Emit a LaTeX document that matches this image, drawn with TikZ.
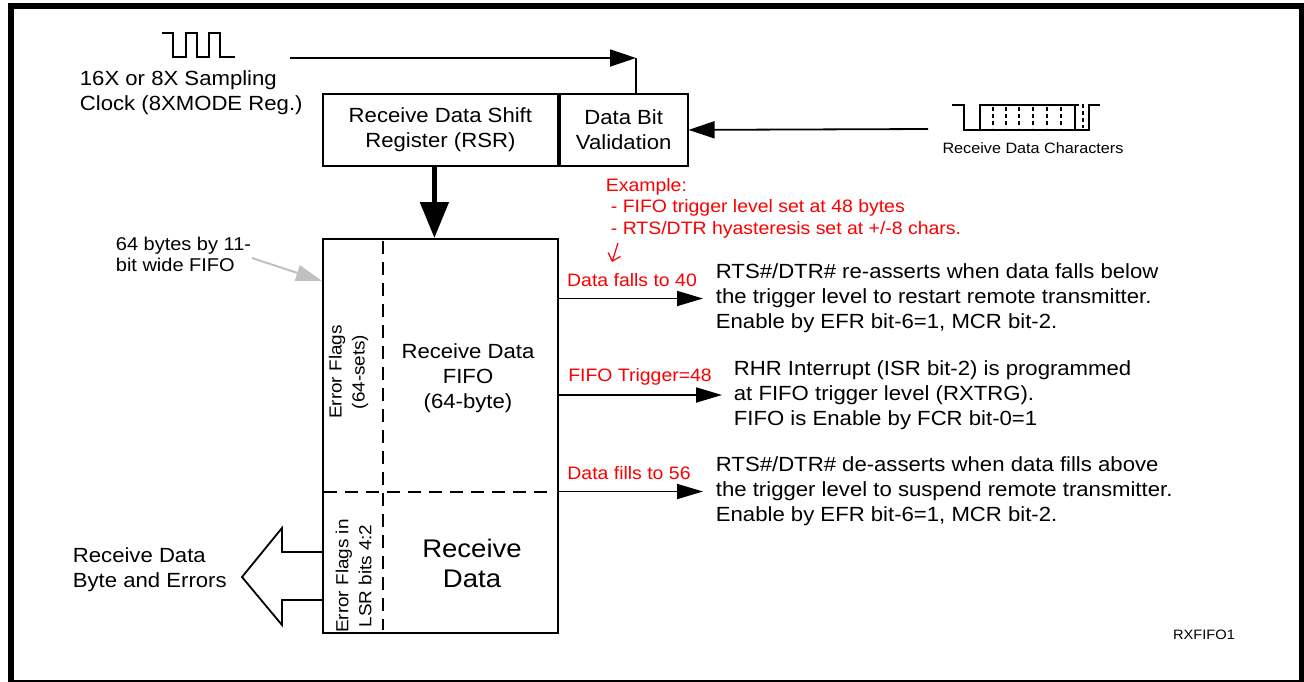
\documentclass[tikz,border=0pt]{standalone}
\usepackage{fontspec}
\setmainfont{Liberation Sans}[FakeStretch=1.08]
\usepackage{xcolor}
\usetikzlibrary{arrows.meta}
\definecolor{exred}{RGB}{250,0,0}
\definecolor{callgray}{RGB}{192,192,192}

\begin{document}
\begin{tikzpicture}[x=1pt, y=-1pt, line width=1.8pt,
  every node/.style={inner sep=0pt},
  body/.style={font=\fontsize{20.5}{25}\selectfont, align=left},
  flagtxt/.style={font=\fontsize{17.5}{23}\selectfont, align=center},
  redtxt/.style={text=exred, font=\fontsize{18}{21.5}\selectfont, align=left},
  smalltxt/.style={font=\fontsize{18.5}{21}\selectfont, align=left},
  regbox/.style={draw, body, align=center, anchor=north west, minimum height=72pt},
  flagsep/.style={dash pattern=on 13pt off 8pt},
  arr/.style={-{Triangle[length=26pt,width=15pt]}},
  wave/.style={line width=1.6pt, line join=miter}]
  \useasboundingbox (0,0) rectangle (1304,681);
  % frame round the figure
  \draw[line width=6pt] (11,6) rectangle (1302,683);

  % sampling clock
  \draw[wave] (162,33) -- (173,33) -- (173,57) -- (186,57) -- (186,33) -- (197,33)
    -- (197,57) -- (209,57) -- (209,33) -- (220,33) -- (220,57) -- (235,57);
  \node[body, anchor=west] (clktxt) at (79,92.5) {16X or 8X Sampling\\Clock (8XMODE Reg.)};

  % shift register and validation
  \node[regbox, minimum width=235pt] (rsr) at (322,93) {Receive Data Shift\\Register (RSR)};
  \node[regbox, minimum width=128pt] (dbv) at (rsr.north east) {Data Bit\\Validation};

  \coordinate (clkout) at (290,58);
  \coordinate (clkcorner) at (636,58);
  \draw[-{Triangle[length=26pt,width=17pt]}] (clkout) -- (clkcorner);
  \draw (clkcorner) -- (clkcorner |- dbv.north);

  % receive data characters
  \draw[wave] (952,105) -- (964,105) -- (964,130) -- (980,130) -- (980,105) -- (1075,105) -- (1075,130) -- (980,130);
  \foreach \x in {993,1006,1019,1033,1047,1061}
    \draw[line width=1.4pt, dash pattern=on 4pt off 3pt] (\x,107) -- (\x,128);
  \draw[line width=1.4pt, dash pattern=on 4pt off 3pt] (1075,105) -- (1083,105) -- (1083,128);
  \draw[wave] (1075,130) -- (1089,130) -- (1089,105) -- (1100,105);
  \node[font=\fontsize{15}{18}\selectfont] (rxchars) at (1033,148) {Receive Data Characters};
  \coordinate (rxin) at (928,129);
  \draw[-{Triangle[length=26pt,width=17pt]}] (rxin) -- (dbv.east);

  % the FIFO
  \node[draw, minimum width=235pt, minimum height=394pt, anchor=north west] (fifo) at (322,238) {};
  \draw[flagsep] (383,241) -- (383,630);
  \draw[flagsep] (324,492) -- (549,492);
  \node[flagtxt, rotate=90] (flags) at (348.5,372) {Error Flags\\(64-sets)};
  \node[body, align=center] (fifotxt) at (468,378) {Receive Data\\FIFO\\(64-byte)};
  \node[flagtxt, rotate=90] (lsrflags) at (353.5,576) {Error Flags in\\LSR bits 4:2};
  \node[font=\fontsize{25.5}{30}\selectfont, align=center] (rxdata) at (472,563) {Receive\\Data};

  \draw[line width=5pt, -{Triangle[length=36pt,width=28pt]}] ([xshift=-6pt]rsr.south) -- ([xshift=-6pt]fifo.north);

  % FIFO width note
  \node[smalltxt, anchor=west] (widthnote) at (115,254) {64 bytes by 11-\\bit wide FIFO};
  \draw[callgray, line width=2pt, -{Triangle[length=26pt,width=16pt]}] ([yshift=-4pt]widthnote.east) -- (fifo.west |- 0,281);

  % output byte
  \draw[line join=miter] (fifo.west |- 0,552) -- (282,552) -- (282,528) -- (242,577)
    -- (282,625) -- (282,600) -- (fifo.west |- 0,600);
  \node[body, anchor=west] (outtxt) at (72,570) {Receive Data\\Byte and Errors};

  % example
  \node[redtxt, anchor=west] (example) at (605,208) {Example:\\\hspace{5pt}- FIFO trigger level set at 48 bytes\\\hspace{5pt}- RTS/DTR hyasteresis set at +/-8 chars.};
  \coordinate (exhint) at (618,243);
  \draw[exred, line width=1.2pt, -{Straight Barb[length=7pt,width=13pt]}] (exhint) -- ++(-6,19);

  % levels
  \node[body, anchor=west] (rtson) at (715,298.5) {RTS\#/DTR\# re-asserts when data falls below\\the trigger level to restart remote transmitter.\\Enable by EFR bit-6=1, MCR bit-2.};
  \node[body, anchor=west] (rhr) at (733,395) {RHR Interrupt (ISR bit-2) is programmed\\at FIFO trigger level (RXTRG).\\FIFO is Enable by FCR bit-0=1};
  \node[body, anchor=west] (rtsoff) at (715,491.5) {RTS\#/DTR\# de-asserts when data fills above\\the trigger level to suspend remote transmitter.\\Enable by EFR bit-6=1, MCR bit-2.};

  \draw[arr] (fifo.east |- rtson) -- ([xshift=-12pt]rtson.west);
  \draw[arr] (fifo.east |- rhr) -- ([xshift=-11pt]rhr.west);
  \draw[arr] (fifo.east |- rtsoff) -- ([xshift=-12pt]rtsoff.west);

  \node[redtxt] (falls) at (632,280) {Data falls to 40};
  \node[redtxt] (trig) at (640,377) {FIFO Trigger=48};
  \node[redtxt] (fills) at (629,473) {Data fills to 56};

  \node[font=\fontsize{13.6}{16}\selectfont] (figid) at (1204,635) {RXFIFO1};
\end{tikzpicture}
\end{document}
